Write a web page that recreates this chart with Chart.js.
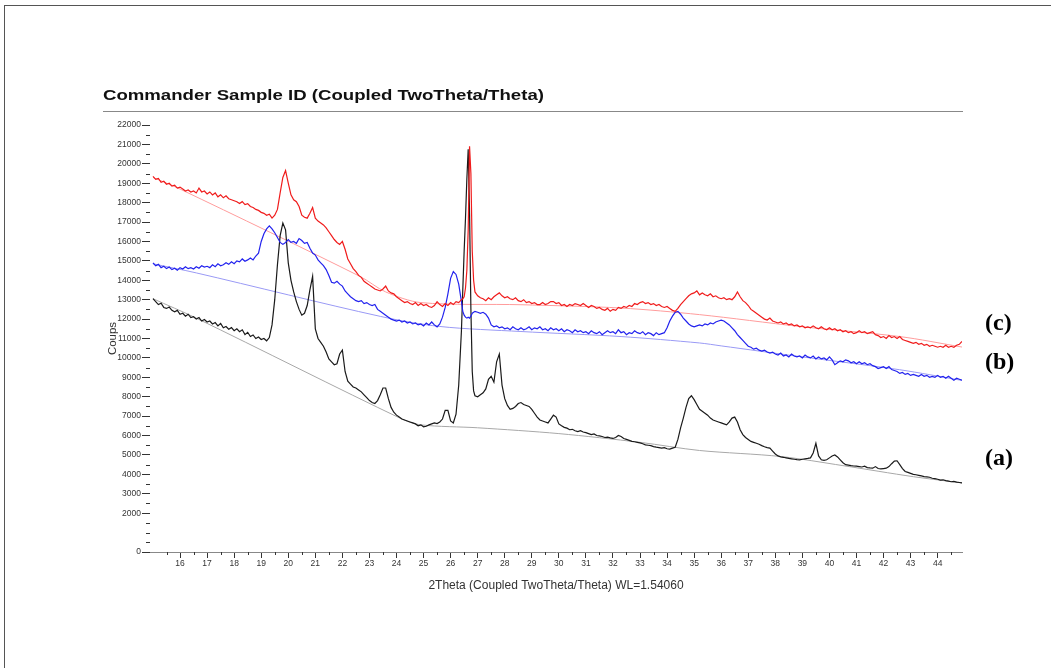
<!DOCTYPE html>
<html><head><meta charset="utf-8">
<script src="https://cdn.jsdelivr.net/npm/chart.js@4.4.1/dist/chart.umd.min.js"></script>
<style>
html,body{margin:0;padding:0;background:#fff;}
#wrap{position:relative;width:1051px;height:668px;overflow:hidden;background:#fff;}
#c{position:absolute;left:0;top:0;}
.bt{position:absolute;left:4px;top:5px;width:1047px;height:1px;background:#555;}
.bl{position:absolute;left:4px;top:5px;width:1px;height:663px;background:#555;}
#title{position:absolute;left:103px;top:86px;font:bold 15.5px "Liberation Sans",Arial,sans-serif;color:#111;transform-origin:0 0;transform:scaleX(1.2);white-space:nowrap;}
#rule{position:absolute;left:103px;top:111px;width:860px;height:1px;background:#888;}
.tag{position:absolute;left:985px;font:bold 24px "Liberation Serif",serif;color:#000;white-space:nowrap;}
</style></head>
<body>
<div id="wrap">
<canvas id="c" width="1051" height="668"></canvas>
<div class="bt"></div><div class="bl"></div>
<div id="title">Commander Sample ID (Coupled TwoTheta/Theta)</div>
<div id="rule"></div>
<div class="tag" style="top:309px">(c)</div>
<div class="tag" style="top:348px">(b)</div>
<div class="tag" style="top:444px">(a)</div>
</div>
<script>
// 2Theta grid (degrees)
const twoTheta = [
15.0,15.1,15.2,15.3,15.4,15.5,15.6,15.7,15.8,15.9,
16.0,16.1,16.2,16.3,16.4,16.5,16.6,16.7,16.8,16.9,
17.0,17.1,17.2,17.3,17.4,17.5,17.6,17.7,17.8,17.9,
18.0,18.1,18.2,18.3,18.4,18.5,18.6,18.7,18.8,18.9,
19.0,19.1,19.2,19.3,19.4,19.5,19.6,19.7,19.8,19.9,
20.0,20.1,20.2,20.3,20.4,20.5,20.6,20.7,20.8,20.9,
21.0,21.1,21.2,21.3,21.4,21.5,21.6,21.7,21.8,21.9,
22.0,22.1,22.2,22.3,22.4,22.5,22.6,22.7,22.8,22.9,
23.0,23.1,23.2,23.3,23.4,23.5,23.6,23.7,23.8,23.9,
24.0,24.1,24.2,24.3,24.4,24.5,24.6,24.7,24.8,24.9,
25.0,25.1,25.2,25.3,25.4,25.5,25.6,25.7,25.8,25.9,
26.0,26.1,26.2,26.3,26.4,26.45,26.5,26.55,26.6,26.65,26.7,26.75,26.8,26.85,26.9,
27.0,27.1,27.2,27.3,27.4,27.5,27.6,27.7,27.8,27.9,
28.0,28.1,28.2,28.3,28.4,28.5,28.6,28.7,28.8,28.9,
29.0,29.1,29.2,29.3,29.4,29.5,29.6,29.7,29.8,29.9,
30.0,30.1,30.2,30.3,30.4,30.5,30.6,30.7,30.8,30.9,
31.0,31.1,31.2,31.3,31.4,31.5,31.6,31.7,31.8,31.9,
32.0,32.1,32.2,32.3,32.4,32.5,32.6,32.7,32.8,32.9,
33.0,33.1,33.2,33.3,33.4,33.5,33.6,33.7,33.8,33.9,
34.0,34.1,34.2,34.3,34.4,34.5,34.6,34.7,34.8,34.9,
35.0,35.1,35.2,35.3,35.4,35.5,35.6,35.7,35.8,35.9,
36.0,36.1,36.2,36.3,36.4,36.5,36.6,36.7,36.8,36.9,
37.0,37.1,37.2,37.3,37.4,37.5,37.6,37.7,37.8,37.9,
38.0,38.1,38.2,38.3,38.4,38.5,38.6,38.7,38.8,38.9,
39.0,39.1,39.2,39.3,39.4,39.5,39.6,39.7,39.8,39.9,
40.0,40.1,40.2,40.3,40.4,40.5,40.6,40.7,40.8,40.9,
41.0,41.1,41.2,41.3,41.4,41.5,41.6,41.7,41.8,41.9,
42.0,42.1,42.2,42.3,42.4,42.5,42.6,42.7,42.8,42.9,
43.0,43.1,43.2,43.3,43.4,43.5,43.6,43.7,43.8,43.9,
44.0,44.1,44.2,44.3,44.4,44.5,44.6,44.7,44.8,44.9
];
// (a) black pattern
const countsA = [
13050,12900,12750,12820,12600,12550,12620,12450,12380,12450,
12250,12300,12150,12250,12080,12120,12000,12080,11900,11980,
11850,11900,11750,11820,11650,11780,11550,11620,11480,11560,
11400,11500,11350,11450,11200,11320,11100,11180,11000,11080,
10950,11000,10880,11050,11700,13000,14800,16300,16950,16600,
14900,14000,13400,12900,12500,12200,12300,12700,13500,14200,
11500,11000,10800,10600,10300,9950,9800,9650,9700,10200,
10400,9300,8800,8650,8500,8450,8350,8250,8100,7950,
7800,7700,7650,7800,8100,8450,8450,7900,7450,7200,
7050,6950,6850,6800,6750,6700,6650,6600,6500,6550,
6450,6480,6550,6600,6650,6620,6700,6850,7300,7300,
6750,6650,7100,8600,11400,13500,15500,17200,19200,20750,17500,12500,9300,8300,8050,
8000,8100,8200,8400,8900,9050,8750,9800,10200,8600,
7900,7550,7350,7400,7500,7650,7700,7600,7550,7500,
7350,7150,6950,6800,6750,6700,6650,6850,7050,6950,
6600,6500,6420,6380,6300,6320,6250,6200,6250,6180,
6150,6100,6050,6080,6000,5980,5950,5900,5920,5880,
5850,5900,6000,5950,5850,5800,5750,5700,5680,5650,
5620,5580,5520,5500,5480,5430,5400,5380,5350,5380,
5320,5300,5350,5400,5800,6400,6900,7450,7900,8050,
7850,7600,7350,7250,7150,7050,6900,6800,6750,6700,
6650,6600,6550,6700,6900,6950,6700,6300,6050,5900,
5800,5700,5650,5600,5550,5480,5420,5380,5350,5200,
5050,4950,4900,4880,4850,4820,4800,4780,4760,4750,
4780,4800,4820,4850,5100,5600,4950,4750,4720,4750,
4850,4950,5000,4900,4750,4600,4500,4480,4450,4430,
4420,4400,4380,4420,4350,4330,4320,4400,4300,4280,
4300,4320,4400,4550,4680,4700,4500,4300,4150,4100,
4050,4000,3980,3950,3920,3880,3870,3850,3800,3780,
3750,3700,3720,3680,3650,3620,3640,3600,3580,3560
];
// (b) blue pattern
const countsB = [
14900,14750,14820,14650,14720,14600,14680,14550,14620,14520,
14650,14580,14700,14600,14650,14580,14700,14620,14750,14680,
14720,14650,14800,14700,14850,14750,14800,14900,14820,14950,
14850,15000,14950,15100,14980,15050,15150,15050,15250,15400,
16000,16400,16650,16800,16650,16450,16200,15950,15850,15950,
16100,15950,16000,15900,16150,16050,15900,15950,15650,15400,
15300,15050,14900,14750,14550,14250,13900,13850,13950,13800,
13700,13450,13300,13150,13050,12950,12900,12950,12800,12850,
12750,12700,12750,12500,12400,12300,12200,12100,12000,11950,
11900,11950,11850,11900,11800,11850,11750,11800,11700,11750,
11650,11800,11700,11850,11700,11600,11750,12100,12600,13300,
14100,14450,14300,13800,12900,12400,12200,12100,12050,12100,12050,12150,12300,12350,12400,
12350,12300,12350,12250,12050,11700,11600,11650,11550,11600,
11500,11550,11450,11600,11500,11450,11550,11450,11500,11600,
11450,11550,11500,11600,11450,11500,11400,11550,11450,11500,
11400,11500,11350,11450,11400,11300,11450,11350,11400,11300,
11350,11250,11400,11300,11250,11350,11200,11300,11400,11300,
11350,11250,11450,11300,11350,11200,11300,11250,11400,11300,
11250,11350,11200,11300,11250,11150,11300,11200,11250,11300,
11550,11900,12150,12350,12400,12250,12050,11900,11750,11650,
11600,11650,11700,11650,11750,11700,11800,11750,11850,11900,
11950,11900,11800,11700,11550,11400,11200,11050,10900,10750,
10600,10550,10450,10500,10400,10350,10400,10300,10250,10300,
10200,10150,10250,10100,10150,10050,10200,10100,10050,10100,
10000,10150,10050,10000,10100,9950,10050,9950,10000,9900,
10050,9900,9650,9750,9850,9800,9900,9850,9750,9800,
9700,9800,9700,9750,9650,9700,9600,9550,9450,9500,
9550,9450,9550,9400,9350,9300,9200,9250,9150,9200,
9100,9150,9100,9050,9150,9050,9100,9000,9050,9000,
9100,9000,9050,8950,9050,8950,8850,8950,8900,8850
];
// (c) red pattern
const countsC = [
19350,19200,19250,19050,19100,18950,19000,18850,18900,18750,
18800,18700,18600,18650,18550,18600,18500,18750,18550,18600,
18450,18550,18400,18500,18300,18400,18250,18350,18200,18150,
18100,18050,17950,18050,17900,17950,17800,17750,17650,17600,
17500,17450,17350,17400,17200,17350,17650,18500,19300,19650,
19000,18400,18150,18050,17800,17350,17250,17200,17450,17750,
17200,17050,16950,16850,16700,16500,16300,16100,15950,15850,
16000,15600,15100,14850,14600,14450,14250,14150,13950,13850,
13750,13650,13550,13500,13450,13550,13700,13450,13350,13300,
13150,13050,12950,12850,12900,12800,12750,12850,12700,12800,
12700,12750,12650,12600,12700,12900,12750,12650,12800,12700,
12850,12750,12900,12850,13000,13050,13150,13600,14500,16600,20900,19500,15500,14000,13400,
13200,13100,13050,12950,13100,13000,13150,13250,13350,13200,
13100,13150,13050,13000,13100,12950,12900,13000,12850,12900,
12800,12850,12750,12750,12850,12750,12800,12900,12900,12800,
12850,12700,12750,12650,12750,12700,12800,12750,12700,12800,
12700,12600,12700,12650,12550,12600,12500,12450,12550,12400,
12500,12450,12600,12550,12650,12600,12700,12650,12800,12750,
12850,12900,12800,12850,12750,12800,12700,12750,12650,12600,
12650,12550,12450,12400,12550,12750,12900,13050,13200,13300,
13350,13450,13250,13350,13250,13200,13300,13150,13200,13100,
13050,13100,13000,13050,13000,13150,13400,13150,12950,12850,
12700,12500,12400,12300,12200,12100,12000,11950,12050,11900,
11850,11800,11850,11750,11800,11700,11750,11650,11700,11600,
11650,11550,11600,11550,11650,11550,11500,11600,11500,11450,
11550,11450,11500,11400,11450,11350,11400,11300,11350,11250,
11300,11400,11300,11350,11250,11300,11350,11200,11150,11050,
11100,11000,11150,11050,11100,11000,11100,10950,10900,10850,
10800,10750,10800,10700,10750,10650,10700,10600,10650,10600,
10550,10600,10550,10650,10550,10600,10550,10650,10700,10850
];
// fitted backgrounds
const bgA_x = [15.0,16.6,24.2,24.9,27.0,30.0,33.0,35.2,38.2,40.5,43.1,44.9];
const bgA_y = [13050,12050,6850,6550,6400,6100,5650,5230,4920,4450,3880,3560];
const bgB_x = [15.0,16.6,23.4,25.6,28.6,32.3,35.2,36.0,38.9,42.6,44.9];
const bgB_y = [14850,14380,12140,11620,11360,11100,10770,10620,10070,9390,8840];
const bgC_x = [15.0,16.0,22.65,23.6,24.9,28.6,32.3,35.2,38.9,42.6,44.9];
const bgC_y = [19300,18700,14200,13400,12850,12740,12570,12230,11620,11100,10560];
// axis ticks
const xTickValues = [16,17,18,19,20,21,22,23,24,25,26,27,28,29,30,31,32,33,34,35,36,37,38,39,40,41,42,43,44];
const yTickValues = [0,2000,3000,4000,5000,6000,7000,8000,9000,10000,11000,12000,13000,14000,15000,16000,17000,18000,19000,20000,21000,22000];
const yMinorValues = [500,1000,1500,2500,3500,4500,5500,6500,7500,8500,9500,10500,11500,12500,13500,14500,15500,16500,17500,18500,19500,20500,21500];
const xMinorValues = [15.5,16.5,17.5,18.5,19.5,20.5,21.5,22.5,23.5,24.5,25.5,26.5,27.5,28.5,29.5,30.5,31.5,32.5,33.5,34.5,35.5,36.5,37.5,38.5,39.5,40.5,41.5,42.5,43.5,44.5];

const toPts = (xs, ys) => xs.map((x, i) => ({x: x, y: ys[i]}));

const minorTicks = {
  id: 'minorTicks',
  afterDraw(chart) {
    const {ctx, chartArea: a, scales: {x, y}} = chart;
    ctx.save();
    ctx.strokeStyle = '#333';
    ctx.lineWidth = 1;
    ctx.beginPath();
    yMinorValues.forEach(v => {
      const py = Math.round(y.getPixelForValue(v)) + 0.5;
      ctx.moveTo(a.left - 4, py); ctx.lineTo(a.left, py);
    });
    xMinorValues.forEach(v => {
      const px = Math.round(x.getPixelForValue(v)) + 0.5;
      ctx.moveTo(px, a.bottom); ctx.lineTo(px, a.bottom + 3);
    });
    ctx.stroke();
    ctx.restore();
  }
};

const fontFam = '"Liberation Sans", Arial, sans-serif';
new Chart(document.getElementById('c'), {
  type: 'line',
  data: {
    datasets: [
      {label: '(c)', data: toPts(twoTheta, countsC), borderColor: '#f01c1c', borderWidth: 1.2, pointRadius: 0, tension: 0, order: 1},
      {label: '(b)', data: toPts(twoTheta, countsB), borderColor: '#2222ee', borderWidth: 1.2, pointRadius: 0, tension: 0, order: 1},
      {label: '(a)', data: toPts(twoTheta, countsA), borderColor: '#1a1a1a', borderWidth: 1.2, pointRadius: 0, tension: 0, order: 1},
      {label: 'bg (c)', data: toPts(bgC_x, bgC_y), borderColor: '#ff9c9c', borderWidth: 1, pointRadius: 0, tension: 0.3, order: 3},
      {label: 'bg (b)', data: toPts(bgB_x, bgB_y), borderColor: '#9a9af5', borderWidth: 1, pointRadius: 0, tension: 0.3, order: 3},
      {label: 'bg (a)', data: toPts(bgA_x, bgA_y), borderColor: '#a8a8a8', borderWidth: 1, pointRadius: 0, tension: 0.3, order: 3}
    ]
  },
  options: {
    responsive: false,
    animation: false,
    parsing: true,
    layout: {padding: {left: 100, right: 89, top: 125, bottom: 75}},
    plugins: {legend: {display: false}, tooltip: {enabled: false}, title: {display: false}},
    scales: {
      x: {
        type: 'linear', min: 14.89, max: 44.9,
        afterBuildTicks: s => { s.ticks = xTickValues.map(v => ({value: v})); },
        afterFit: s => { s.height = 41; },
        border: {display: true, color: '#888', width: 1},
        grid: {display: true, drawOnChartArea: false, drawTicks: true, tickLength: 6, tickColor: '#333', tickWidth: 1},
        ticks: {padding: 1, autoSkip: false, maxRotation: 0, color: '#333', font: {family: fontFam, size: 8.5}, callback: v => String(v)},
        title: {display: true, text: '2Theta (Coupled TwoTheta/Theta) WL=1.54060', color: '#333', font: {family: fontFam, size: 12}, padding: {top: 0, bottom: 0}}
      },
      y: {
        type: 'linear', min: 0, max: 22000,
        afterBuildTicks: s => { s.ticks = yTickValues.map(v => ({value: v})); },
        afterFit: s => { s.width = 50; },
        border: {display: false},
        grid: {display: true, drawOnChartArea: false, drawTicks: true, tickLength: 8, tickColor: '#333', tickWidth: 1},
        ticks: {padding: 1, autoSkip: false, color: '#333', font: {family: fontFam, size: 8.5}, callback: v => String(v)},
        title: {display: true, text: 'Coups', color: '#333', font: {family: fontFam, size: 11.5}, padding: {top: 6, bottom: 0}}
      }
    }
  },
  plugins: [minorTicks]
});
</script>
</body></html>
